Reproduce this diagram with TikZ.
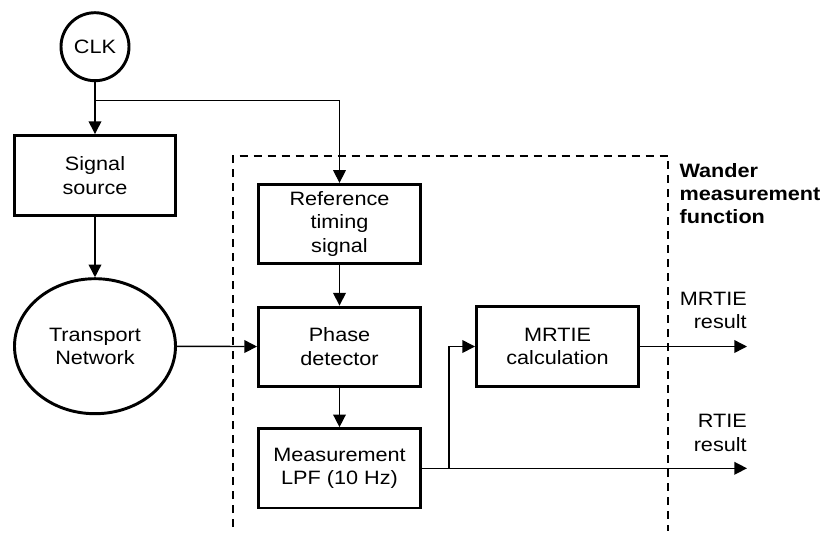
\documentclass[tikz,border=0pt]{standalone}
\usepackage{fontspec}
\setmainfont{Liberation Sans}[FakeStretch=1.12]
\usepackage{tikz}
\usetikzlibrary{positioning,arrows.meta,shapes}

\tikzset{
  block/.style={draw, line width=2.2pt, minimum width=121.5pt, minimum height=59.5pt, align=center, inner sep=0pt},
  flow/.style={line width=1.1pt, -{Triangle[length=9.5pt,width=9.5pt]}},
  wire/.style={line width=1.1pt},
  tag/.style={inner sep=0pt, align=right, anchor=south east},
}

\begin{document}
\begin{tikzpicture}[x=0.75pt, y=-0.75pt, font=\fontsize{14.5}{17.5}\selectfont]
    \useasboundingbox (0,0) rectangle (826,533);

    % Clock and signal path
    \node[circle, draw, line width=2.2pt, minimum size=51pt, inner sep=0pt] (clk) at (95,46.7) {CLK};
    \node[block, minimum width=120.75pt, minimum height=60pt] (sigsrc) at (95,175.5) {Signal\\source};
    \node[ellipse, draw, line width=2.2pt, minimum width=120.75pt, minimum height=101.25pt, inner sep=0pt, align=center] (net) at (95,346.2) {Transport\\Network};

    % Wander measurement function
    \draw[dash pattern=on 6pt off 4.5pt, line width=1.5pt] (233,527) -- (233,155.7) -- (668.3,155.7) -- (668.3,531);
    \node[inner sep=0pt, anchor=north west, align=left, font=\fontsize{14.5}{17.5}\selectfont\bfseries] (wmf) at (679.3,163) {Wander\\measurement\\function};

    \node[block] (ref) at (339.5,224) {Reference\\timing\\signal};
    \node[block] (phase) at (339.5,346.7) {Phase\\detector};
    \node[block] (lpf) at (339.5,468.3) {Measurement\\LPF (10 Hz)};
    \node[block] (mrtie) at (557.5,346.5) {MRTIE\\calculation};

    % Connectors
    \coordinate (split) at (95,100.7);
    \coordinate (tap) at (449,468.3);
    \coordinate (mout) at (747,346.5);
    \coordinate (rout) at (747,468.3);

    \draw[flow] (clk) -- (sigsrc);
    \draw[flow, line width=0.9pt] (split) -| (ref);
    \draw[flow] (sigsrc) -- (net);
    \draw[flow] (net) -- (phase);
    \draw[flow] (ref) -- (phase);
    \draw[flow] (phase) -- (lpf);
    \draw[flow] (lpf) -- (rout);
    \draw[flow] (tap) |- (mrtie);
    \draw[flow] (mrtie) -- (mout);

    % Output labels
    \node[tag] (mlabel) at (747,329) {MRTIE\\result};
    \node[tag] (rlabel) at (747,451.7) {RTIE\\result};
\end{tikzpicture}
\end{document}
